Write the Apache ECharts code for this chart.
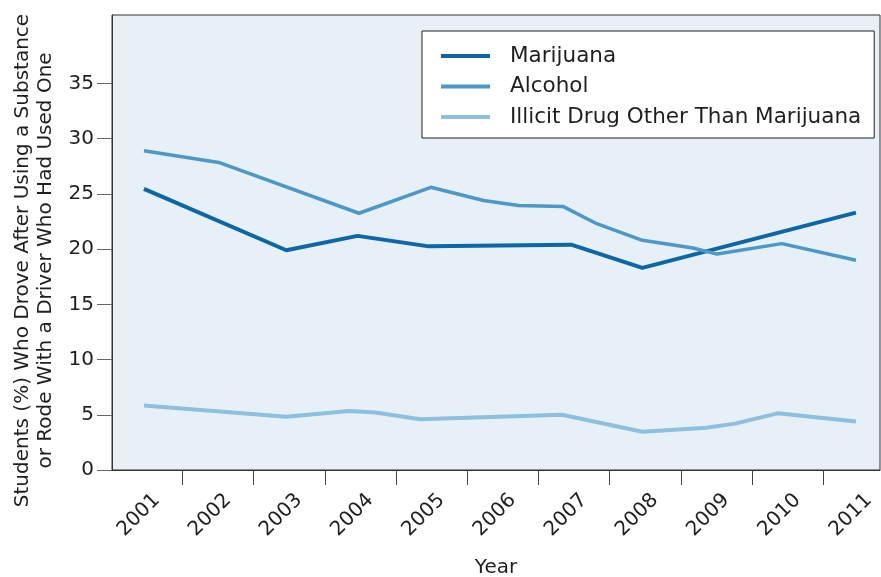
<!DOCTYPE html>
<html>
<head>
<meta charset="utf-8">
<script src="https://cdn.jsdelivr.net/npm/echarts@6/dist/echarts.min.js"></script>
</head>
<body style="margin:0">
<div id="main" style="width:881px;height:577px"></div>
<script>
// year positions (x) and percent values (y)
var years = [2001, 2002, 2003, 2004, 2005, 2006, 2007, 2008, 2009, 2010, 2011];
var yTicks = [0, 5, 10, 15, 20, 25, 30, 35];

var marijuana = [
  [2001, 25.45], [2003, 19.9], [2004, 21.2], [2005, 20.25],
  [2007, 20.4], [2008, 18.3], [2011, 23.3]
];
var alcohol = [
  [2001, 28.9], [2002.05, 27.85], [2004.02, 23.25], [2005.03, 25.6],
  [2005.77, 24.4], [2006.26, 23.95], [2006.89, 23.85], [2007.36, 22.3],
  [2008, 20.8], [2008.71, 20.1], [2009.05, 19.55], [2009.96, 20.5], [2011, 19.0]
];
var otherDrug = [
  [2001, 5.85], [2003, 4.82], [2003.88, 5.35], [2004.25, 5.2], [2004.88, 4.6],
  [2006.87, 5.0], [2008, 3.47], [2008.9, 3.83], [2009.3, 4.2], [2009.9, 5.13], [2011, 4.4]
];

var tickShift = 0.54;   // ticks sit between the years in the original
var labelShift = 0.18;

var font = 'DejaVu Sans';
var txt = '#1f1f1f';

var chart = echarts.init(document.getElementById('main'));
chart.setOption({
  animation: false,
  textStyle: { fontFamily: font, color: txt },
  grid: {
    left: 112, right: 1, top: 15, bottom: 107,
    outerBoundsMode: 'none',
    show: true, backgroundColor: '#e7eff7', borderColor: '#333', borderWidth: 1
  },
  legend: {
    orient: 'vertical',
    left: 422, top: 31,
    padding: [14, 13, 10, 19],
    icon: 'rect',
    itemWidth: 49, itemHeight: 4, itemGap: 8.5,
    backgroundColor: '#fff', borderColor: '#222', borderWidth: 1, borderRadius: 0,
    selectedMode: false,
    textStyle: { fontFamily: font, fontSize: 21.5, color: txt, padding: [0, 0, 0, 15], lineHeight: 22 },
    data: ['Marijuana', 'Alcohol', 'Illicit Drug Other Than Marijuana']
  },
  xAxis: {
    type: 'value',
    min: 2000.551, max: 2011.338,
    name: 'Year', nameLocation: 'middle', nameGap: 88,
    nameTextStyle: { fontFamily: font, fontSize: 20, color: txt },
    axisLine: { show: true, lineStyle: { color: '#333', width: 1 } },
    axisTick: {
      show: true, length: 15, lineStyle: { color: '#444' },
      customValues: years.slice(0, 10).map(function (y) { return y + tickShift; })
    },
    axisLabel: {
      rotate: 45, margin: 27, fontSize: 20, color: txt, fontFamily: font,
      customValues: years.map(function (y) { return y + labelShift; }),
      formatter: function (v) { return String(Math.round(v - labelShift)); }
    },
    splitLine: { show: false }
  },
  yAxis: {
    type: 'value',
    min: 0, max: 41.2,
    name: 'Students (%) Who Drove After Using a Substance\nor Rode With a Driver Who Had Used One',
    nameLocation: 'middle', nameGap: 54,
    nameTextStyle: { fontFamily: font, fontSize: 20, color: txt, lineHeight: 23, padding: [0, 36, 0, 0] },
    axisLine: { show: true, lineStyle: { color: '#333', width: 1 } },
    axisTick: { show: true, length: 15, lineStyle: { color: '#666' }, customValues: yTicks },
    axisLabel: { margin: 18, fontSize: 20, color: txt, fontFamily: font, customValues: yTicks },
    splitLine: { show: false }
  },
  series: [
    {
      name: 'Marijuana', type: 'line', data: marijuana,
      showSymbol: false, symbol: 'none',
      lineStyle: { color: '#0b67a7', width: 4 }, itemStyle: { color: '#0b67a7' }
    },
    {
      name: 'Alcohol', type: 'line', data: alcohol,
      showSymbol: false, symbol: 'none',
      lineStyle: { color: '#4b98c9', width: 3.5 }, itemStyle: { color: '#4b98c9' }
    },
    {
      name: 'Illicit Drug Other Than Marijuana', type: 'line', data: otherDrug,
      showSymbol: false, symbol: 'none',
      lineStyle: { color: '#8dbfdf', width: 4 }, itemStyle: { color: '#8dbfdf' }
    }
  ]
});
</script>
</body>
</html>
